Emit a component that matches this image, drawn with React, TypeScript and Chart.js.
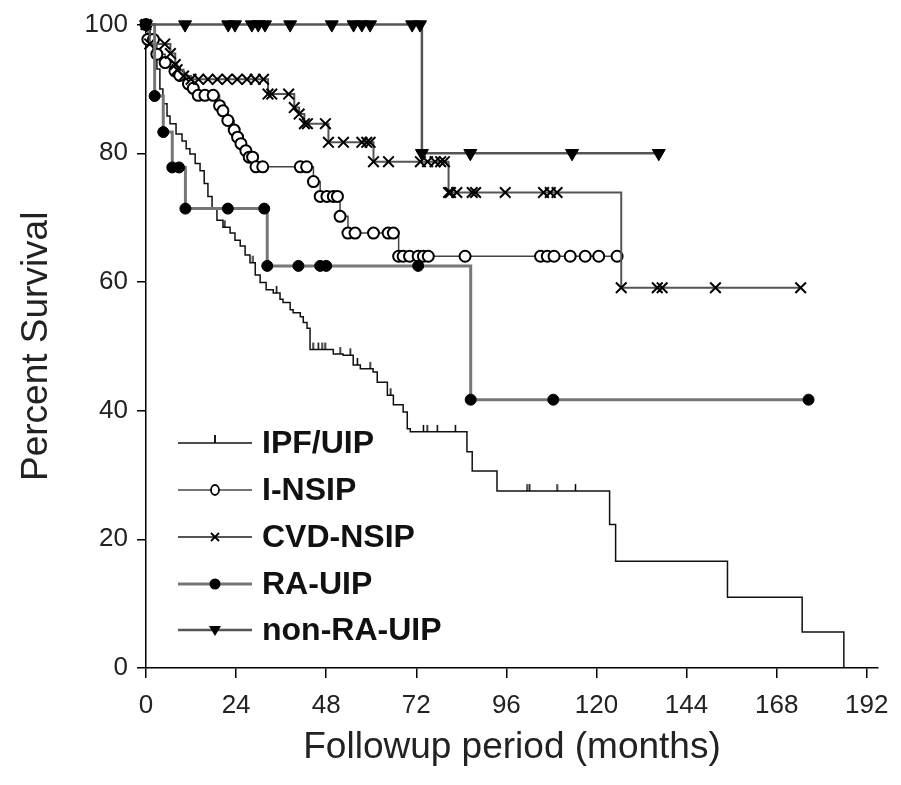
import React, { useEffect, useRef } from 'react';
import { Chart, registerables } from 'chart.js';

Chart.register(...registerables);

const FONT = '"Liberation Sans", Arial, Helvetica, sans-serif';

const xTickValues = [0, 24, 48, 72, 96, 120, 144, 168, 192];
const yTickValues = [0, 20, 40, 60, 80, 100];
const seriesNames = ['IPF/UIP', 'I-NSIP', 'CVD-NSIP', 'RA-UIP', 'non-RA-UIP'];

// IPF/UIP
const ipfEventT = [1.1, 1.9, 2.9, 3.7, 4.5, 5.6, 6.4, 8.0, 9.6, 10.7, 11.7, 13.1, 14.4, 15.5, 16.5, 17.6, 18.9, 20.5, 22.4, 23.7, 25.1, 26.4, 27.7, 29.1, 30.4, 32.0, 33.9, 35.7, 36.5, 38.4, 39.2, 41.1, 41.9, 42.9, 43.7, 49.9, 52.5, 55.2, 57.1, 60.5, 61.6, 64.3, 65.9, 68.5, 69.6, 70.4, 85.5, 86.9, 93.5, 123.5, 125.1, 154.9, 174.8, 185.9];
const ipfEventS = [98.5, 96.1, 93.1, 90.0, 87.7, 85.8, 84.6, 83.0, 81.9, 80.7, 79.9, 78.4, 77.3, 75.3, 73.3, 71.3, 69.6, 68.5, 67.6, 66.5, 65.6, 64.2, 63.0, 61.1, 59.9, 58.8, 58.3, 57.3, 56.8, 55.7, 55.2, 54.6, 53.7, 52.8, 49.5, 48.8, 48.6, 47.1, 46.5, 46.0, 44.4, 42.4, 40.9, 39.8, 37.2, 36.7, 33.6, 30.6, 27.5, 22.3, 16.6, 11.0, 5.6, 0];
const ipfCensorT = [21.0, 28.5, 34.8, 44.5, 45.9, 46.9, 47.7, 51.7, 54.4, 56.3, 59.7, 65.2, 73.9, 74.9, 77.6, 82.4, 101.5, 102.2, 109.5, 114.4];

// I-NSIP
const insipEventT = [0.5, 2.9, 5.1, 7.7, 9.0, 11.3, 12.6, 13.9, 19.6, 20.5, 21.8, 23.5, 24.4, 25.3, 26.6, 27.5, 29.3, 44.6, 46.4, 51.7, 53.8, 67.3];
const insipEventS = [97.7, 95.4, 94.1, 92.8, 92.1, 90.8, 90.1, 89.0, 87.4, 86.6, 85.1, 83.6, 82.5, 81.5, 80.4, 79.4, 77.9, 75.6, 73.3, 70.2, 67.6, 64.0];
const insipCensorT = [2.0, 15.7, 17.9, 28.4, 31.1, 41.1, 42.8, 48.2, 49.9, 51.0, 55.7, 60.6, 64.5, 65.9, 68.5, 70.2, 72.5, 73.9, 75.2, 85.0, 105.1, 106.9, 108.7, 113.0, 117.0, 120.6, 125.5];

// CVD-NSIP
const cvdEventT = [1.0, 6.5, 7.8, 8.3, 10.0, 12.0, 32.5, 39.5, 40.8, 42.2, 48.6, 60.6, 80.6, 126.6];
const cvdEventS = [97.0, 95.5, 93.8, 93.0, 92.0, 91.5, 89.2, 87.1, 86.1, 84.6, 81.7, 78.7, 73.9, 59.1];
const cvdCensorT = [5.0, 14.0, 16.5, 19.0, 21.6, 24.3, 26.9, 29.1, 31.3, 33.5, 38.0, 43.0, 47.8, 52.6, 57.5, 58.8, 59.7, 64.6, 73.1, 75.0, 77.0, 78.5, 79.5, 81.1, 82.8, 86.9, 87.8, 95.7, 105.9, 107.7, 109.5, 136.2, 137.5, 151.7, 174.4];

// RA-UIP
const raEventT = [2.3, 4.6, 7.0, 10.5, 32.3, 86.5];
const raEventS = [88.9, 83.3, 77.8, 71.4, 62.5, 41.7];
const raCensorT = [8.8, 21.8, 31.5, 40.6, 46.4, 48.0, 72.5, 108.5, 176.5];

// non-RA-UIP
const nonRaEventT = [73.5];
const nonRaEventS = [80.0];
const nonRaCensorT = [10.4, 21.9, 23.7, 28.2, 29.9, 31.7, 38.4, 49.5, 55.3, 57.5, 59.7, 70.9, 73.0, 86.4, 113.5, 136.6];

type Pt = { x: number; y: number; c: boolean };

function buildPoints(evT: number[], evS: number[], cenT: number[]): Pt[] {
  const all: Pt[] = [
    ...evT.map((t, i) => ({ x: t, y: evS[i], c: false })),
    ...cenT.map((t) => ({ x: t, y: NaN, c: true })),
  ].sort((a, b) => a.x - b.x);
  const pts: Pt[] = [{ x: 0, y: 100, c: false }];
  let cur = 100;
  for (const p of all) {
    if (p.c) p.y = cur;
    else cur = p.y;
    pts.push(p);
  }
  return pts;
}

function makeTickImage(): HTMLCanvasElement {
  const c = document.createElement('canvas');
  c.width = 3;
  c.height = 16;
  const g = c.getContext('2d')!;
  g.strokeStyle = '#000';
  g.lineWidth = 1.5;
  g.beginPath();
  g.moveTo(1.5, 1);
  g.lineTo(1.5, 8);
  g.stroke();
  return c;
}

const legendPlugin = {
  id: 'kmLegend',
  afterDraw(chart: any) {
    const ctx = chart.ctx as CanvasRenderingContext2D;
    const x0 = 178, x1 = 252, xm = 215, tx = 262;
    const rowY = [443, 490, 537, 584, 630];
    ctx.save();
    chart.data.datasets.forEach((ds: any) => {
      const y = rowY[ds.legendIndex];
      ctx.strokeStyle = ds.borderColor;
      ctx.lineWidth = ds.borderWidth;
      ctx.beginPath();
      ctx.moveTo(x0, y);
      ctx.lineTo(x1, y);
      ctx.stroke();
      ctx.lineWidth = 1.8;
      ctx.strokeStyle = '#000';
      ctx.fillStyle = '#000';
      const kind = ds.legendMarker;
      if (kind === 'tick') {
        ctx.beginPath();
        ctx.moveTo(xm, y - 8);
        ctx.lineTo(xm, y);
        ctx.stroke();
      } else if (kind === 'open') {
        ctx.beginPath();
        ctx.ellipse(xm, y, 4, 5, 0, 0, Math.PI * 2);
        ctx.fillStyle = '#fff';
        ctx.fill();
        ctx.stroke();
      } else if (kind === 'x') {
        const r = 4;
        ctx.beginPath();
        ctx.moveTo(xm - r, y - r);
        ctx.lineTo(xm + r, y + r);
        ctx.moveTo(xm + r, y - r);
        ctx.lineTo(xm - r, y + r);
        ctx.stroke();
      } else if (kind === 'dot') {
        ctx.beginPath();
        ctx.arc(xm, y, 5.5, 0, Math.PI * 2);
        ctx.fill();
      } else if (kind === 'tri') {
        ctx.beginPath();
        ctx.moveTo(xm - 6, y - 4);
        ctx.lineTo(xm + 6, y - 4);
        ctx.lineTo(xm, y + 6);
        ctx.closePath();
        ctx.fill();
      }
      ctx.fillStyle = '#111';
      ctx.font = `bold 32px ${FONT}`;
      ctx.textBaseline = 'middle';
      ctx.textAlign = 'left';
      ctx.fillText(ds.label, tx, y + 1);
    });
    ctx.restore();
  },
};

export default function App() {
  const ref = useRef<HTMLCanvasElement | null>(null);

  useEffect(() => {
    document.body.style.margin = '0';
    const canvas = ref.current!;
    const tickImg = makeTickImage();

    const datasets: any[] = [
      {
        label: seriesNames[0],
        legendIndex: 0,
        legendMarker: 'tick',
        data: buildPoints(ipfEventT, ipfEventS, ipfCensorT),
        borderColor: '#111',
        borderWidth: 1.5,
        stepped: 'before',
        pointStyle: tickImg,
        pointRadius: (c: any) => (c.raw && c.raw.c ? 4 : 0),
        order: 5,
      },
      {
        label: seriesNames[1],
        legendIndex: 1,
        legendMarker: 'open',
        data: buildPoints(insipEventT, insipEventS, insipCensorT),
        borderColor: '#444',
        borderWidth: 1.5,
        stepped: 'before',
        pointStyle: 'circle',
        pointRadius: 5.5,
        pointBackgroundColor: '#fff',
        pointBorderColor: '#000',
        pointBorderWidth: 2,
        order: 4,
      },
      {
        label: seriesNames[2],
        legendIndex: 2,
        legendMarker: 'x',
        data: buildPoints(cvdEventT, cvdEventS, cvdCensorT),
        borderColor: '#555',
        borderWidth: 2,
        stepped: 'before',
        pointStyle: 'crossRot',
        pointRadius: 7.5,
        pointBorderColor: '#000',
        pointBorderWidth: 2,
        order: 3,
      },
      {
        label: seriesNames[3],
        legendIndex: 3,
        legendMarker: 'dot',
        data: buildPoints(raEventT, raEventS, raCensorT),
        borderColor: '#777',
        borderWidth: 3,
        stepped: 'before',
        pointStyle: 'circle',
        pointRadius: 5.5,
        pointBackgroundColor: '#000',
        pointBorderColor: '#000',
        pointBorderWidth: 1,
        order: 2,
      },
      {
        label: seriesNames[4],
        legendIndex: 4,
        legendMarker: 'tri',
        data: buildPoints(nonRaEventT, nonRaEventS, nonRaCensorT),
        borderColor: '#555',
        borderWidth: 2.5,
        stepped: 'before',
        pointStyle: 'triangle',
        rotation: 180,
        pointRadius: 7.5,
        pointBackgroundColor: '#000',
        pointBorderColor: '#000',
        pointBorderWidth: 1,
        order: 1,
      },
    ].map((d) => ({ ...d, clip: false, fill: false, tension: 0 }));

    const tickFont = { family: FONT, size: 26 };
    const chart = new Chart(canvas, {
      type: 'line',
      data: { datasets },
      options: {
        animation: false,
        responsive: false,
        events: [],
        layout: { padding: { top: 20, right: 23, left: 0, bottom: 0 } },
        plugins: { legend: { display: false }, tooltip: { enabled: false } },
        scales: {
          x: {
            type: 'linear',
            min: 0,
            max: 195,
            afterBuildTicks: (s: any) => {
              s.ticks = xTickValues.map((v) => ({ value: v }));
            },
            afterFit: (s: any) => {
              s.height = 117;
            },
            ticks: { font: tickFont, color: '#222', padding: 12, maxRotation: 0, autoSkip: false },
            grid: { display: true, drawOnChartArea: false, drawTicks: true, tickLength: 10, color: '#000', lineWidth: 1.5 },
            border: { display: true, color: '#000', width: 1.5 },
            title: {
              display: true,
              text: 'Followup period (months)',
              font: { family: FONT, size: 37 },
              color: '#222',
              padding: { top: 0, bottom: 15 },
            },
          },
          y: {
            type: 'linear',
            min: 0,
            max: 100,
            afterBuildTicks: (s: any) => {
              s.ticks = yTickValues.map((v) => ({ value: v }));
            },
            afterFit: (s: any) => {
              s.width = 146;
            },
            ticks: { font: tickFont, color: '#222', padding: 9 },
            grid: { display: true, drawOnChartArea: false, drawTicks: true, tickLength: 9, color: '#000', lineWidth: 1.5 },
            border: { display: true, color: '#000', width: 1.5 },
            title: {
              display: true,
              text: 'Percent Survival',
              font: { family: FONT, size: 37 },
              color: '#222',
              padding: { top: 15, bottom: 0 },
            },
          },
        },
      } as any,
      plugins: [legendPlugin],
    });
    return () => chart.destroy();
  }, []);

  return (
    <div style={{ width: 901, height: 785, background: '#fff' }}>
      <canvas ref={ref} width={901} height={785} style={{ display: 'block' }} />
    </div>
  );
}
